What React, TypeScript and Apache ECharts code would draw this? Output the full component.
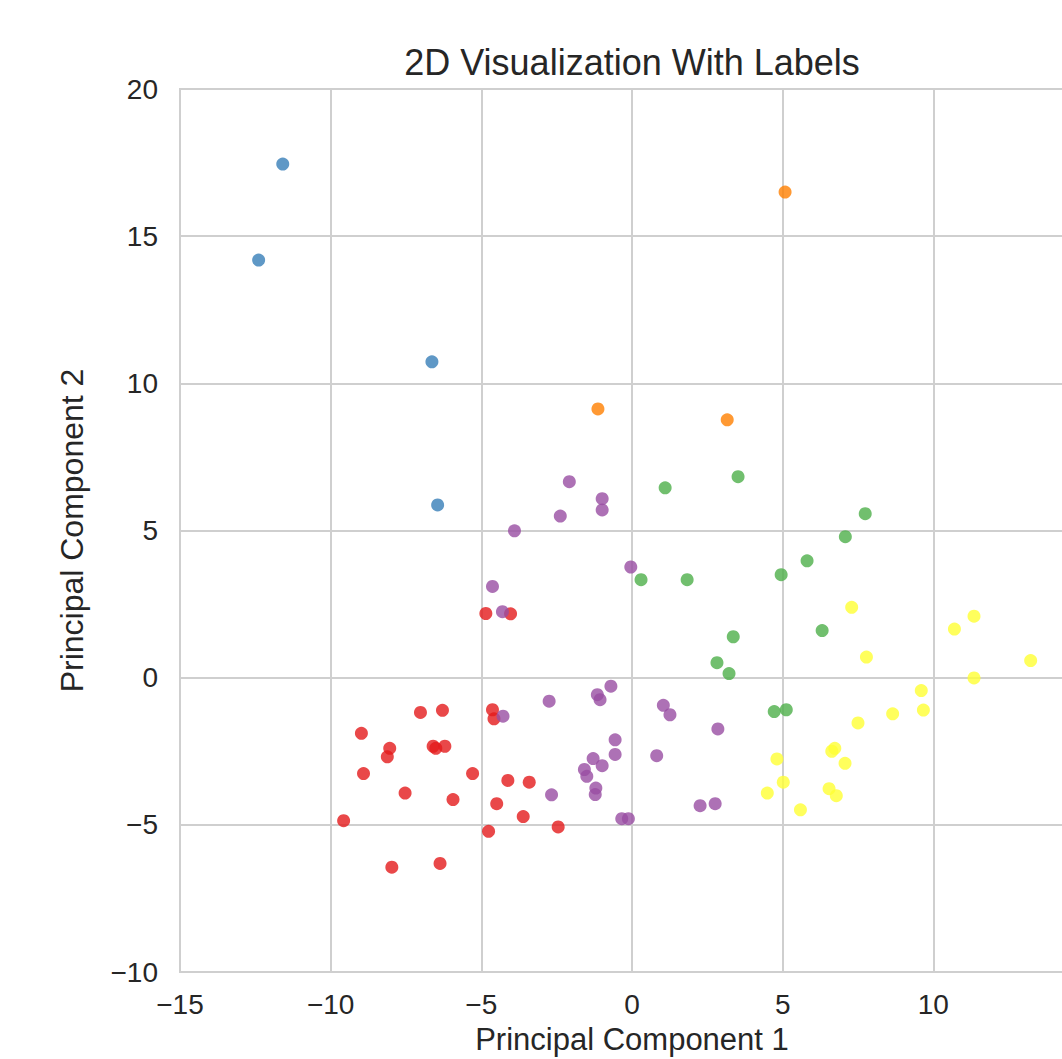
import React, { useEffect, useRef } from "react";
import * as echarts from "echarts";

// Cluster points [PC1, PC2]
const redPoints: number[][] = [
  [-4.85, 2.18], [-4.03, 2.17], [-7.02, -1.18], [-6.29, -1.11], [-4.63, -1.09], [-4.58, -1.4],
  [-8.98, -1.89], [-8.04, -2.4], [-8.12, -2.69], [-6.6, -2.33], [-6.51, -2.4], [-6.21, -2.33],
  [-8.91, -3.26], [-5.29, -3.26], [-7.53, -3.92], [-5.94, -4.14], [-4.12, -3.49], [-3.41, -3.55],
  [-4.49, -4.28], [-3.61, -4.72], [-9.57, -4.86], [-4.76, -5.22], [-2.45, -5.07], [-7.97, -6.44],
  [-6.37, -6.31],
];
const bluePoints: number[][] = [
  [-11.59, 17.45], [-12.39, 14.19], [-6.64, 10.73], [-6.45, 5.87],
];
const greenPoints: number[][] = [
  [1.1, 6.45], [3.52, 6.83], [7.74, 5.57], [7.08, 4.79], [5.81, 3.97], [4.95, 3.5], [0.3, 3.33],
  [1.83, 3.33], [6.31, 1.6], [3.36, 1.39], [2.82, 0.51], [3.22, 0.14], [4.72, -1.15], [5.12, -1.09],
];
const purplePoints: number[][] = [
  [-2.08, 6.66], [-0.99, 6.08], [-0.99, 5.7], [-2.38, 5.49], [-3.9, 4.99], [-0.04, 3.76],
  [-4.63, 3.1], [-4.3, 2.24], [-0.7, -0.29], [-1.15, -0.58], [-1.06, -0.75], [-2.75, -0.8],
  [-4.28, -1.31], [-0.56, -2.11], [-0.56, -2.61], [-1.29, -2.75], [-0.99, -2.99], [-1.58, -3.12],
  [-1.5, -3.35], [-1.2, -3.75], [-1.22, -3.97], [-2.67, -3.98], [-0.34, -4.79], [-0.12, -4.79],
  [1.04, -0.94], [1.26, -1.26], [2.85, -1.74], [0.82, -2.65], [2.26, -4.35], [2.76, -4.28],
];
const orangePoints: number[][] = [
  [5.08, 16.5], [-1.13, 9.13], [3.16, 8.76],
];
const yellowPoints: number[][] = [
  [7.29, 2.39], [7.78, 0.7], [10.7, 1.65], [11.35, 2.09], [13.23, 0.58], [11.35, -0.01],
  [9.6, -0.44], [9.67, -1.1], [8.65, -1.23], [7.5, -1.54], [6.73, -2.4], [6.63, -2.5],
  [7.07, -2.91], [4.81, -2.76], [5.02, -3.55], [4.49, -3.92], [6.54, -3.77], [6.78, -4.01],
  [5.59, -4.49],
];

const clusterNames = ["0", "1", "2", "3", "4", "5"];
const clusterColors = ["#e41a1c", "#377eb8", "#4daf4a", "#984ea3", "#ff7f00", "#ffff33"];
const clusterData = [redPoints, bluePoints, greenPoints, purplePoints, orangePoints, yellowPoints];

const FONT = "'Liberation Sans', Arial, sans-serif";
const TEXT = "#262626";
const GRID = "#cfcfcf";

const fmt = (v: number) => (v < 0 ? "\u2212" + Math.abs(v) : String(v));

export default function App() {
  const ref = useRef<HTMLDivElement>(null);
  useEffect(() => {
    if (!ref.current) return;
    const chart = echarts.init(ref.current, null, { renderer: "svg" });
    chart.setOption({
      animation: false,
      backgroundColor: "#ffffff",
      title: {
        text: "2D Visualization With Labels",
        left: "center",
        top: 39,
        textStyle: { fontFamily: FONT, fontSize: 36, fontWeight: "normal", color: TEXT },
      },
      grid: { left: 180, top: 89, width: 904, height: 883, show: true, borderColor: GRID, borderWidth: 2 },
      xAxis: {
        type: "value",
        min: -15,
        max: 15,
        interval: 5,
        name: "Principal Component 1",
        nameLocation: "middle",
        nameGap: 52,
        nameTextStyle: { fontFamily: FONT, fontSize: 31, color: TEXT },
        axisLine: { show: false },
        axisTick: { show: false },
        axisLabel: {
          formatter: fmt,
          fontFamily: FONT,
          fontSize: 28,
          color: TEXT,
          margin: 18,
          showMaxLabel: false,
        },
        splitLine: { show: true, lineStyle: { color: GRID, width: 2 } },
      },
      yAxis: {
        type: "value",
        min: -10,
        max: 20,
        interval: 5,
        name: "Principal Component 2",
        nameLocation: "middle",
        nameGap: 92,
        nameTextStyle: { fontFamily: FONT, fontSize: 32, color: TEXT },
        axisLine: { show: false },
        axisTick: { show: false },
        axisLabel: { formatter: fmt, fontFamily: FONT, fontSize: 28, color: TEXT, margin: 22 },
        splitLine: { show: true, lineStyle: { color: GRID, width: 2 } },
      },
      series: clusterData.map((pts, i) => ({
        type: "scatter",
        name: clusterNames[i],
        data: pts,
        symbolSize: 13,
        itemStyle: { color: clusterColors[i], opacity: 0.8 },
      })),
    });
    return () => chart.dispose();
  }, []);
  return (
    <div
      ref={ref}
      style={{ position: "fixed", left: 0, top: 0, width: 1264, height: 1100 }}
    />
  );
}
